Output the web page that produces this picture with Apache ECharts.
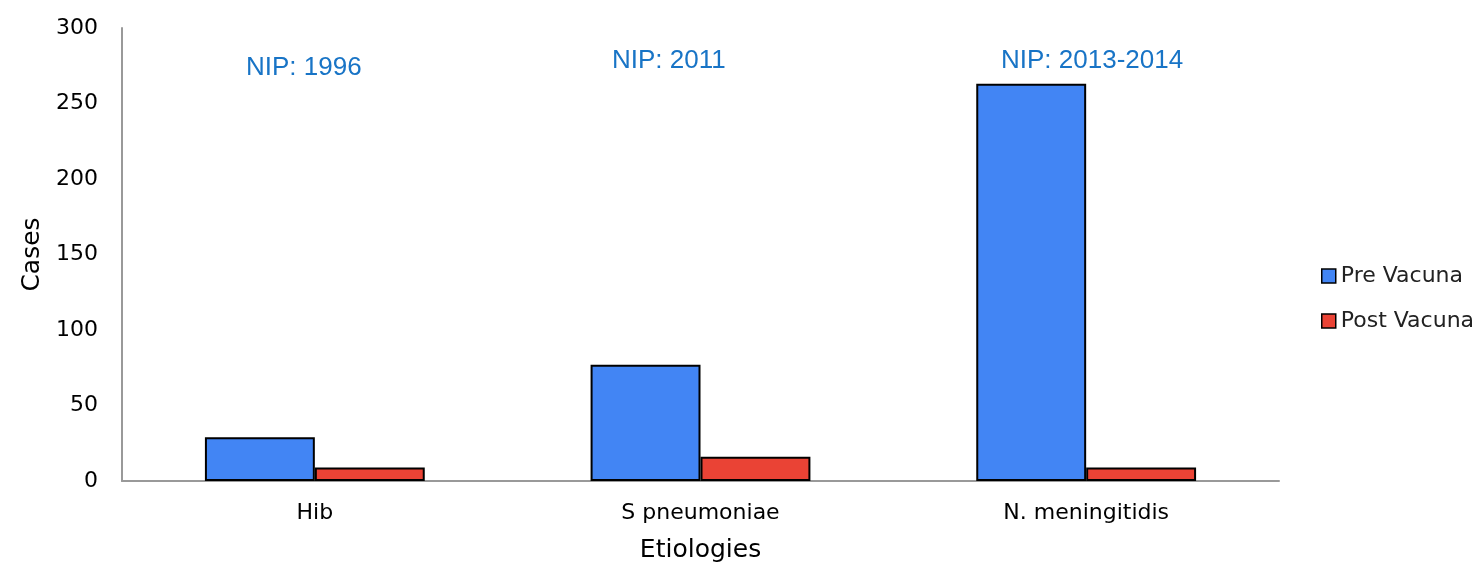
<!DOCTYPE html>
<html>
<head>
<meta charset="utf-8">
<script src="https://cdn.jsdelivr.net/npm/echarts@6/dist/echarts.min.js"></script>
<style>
  html, body { margin: 0; padding: 0; background: #fff; }
  #main { width: 1479px; height: 564px; }
</style>
</head>
<body>
<div id="main"></div>
<script>
// data
var categories = ['Hib', 'S pneumoniae', 'N. meningitidis'];
var preVacuna = [29, 77, 263];
var postVacuna = [9, 16, 9];
var nipLabels = ['NIP: 1996', 'NIP: 2011', 'NIP: 2013-2014'];

var axisFont = 'DejaVu Sans';

var myChart = echarts.init(document.getElementById('main'));

myChart.setOption({
    animation: false,
    backgroundColor: '#fff',
    grid: { left: 122, right: 200, top: 28, bottom: 83, outerBoundsMode: 'none' },
    legend: {
        orient: 'vertical',
        left: 1321,
        top: 265,
        padding: 0,
        itemWidth: 14,
        itemHeight: 14,
        itemGap: 23,
        icon: 'rect',
        itemStyle: { borderColor: '#000', borderWidth: 1.5 },
        textStyle: { fontFamily: axisFont, fontSize: 22, color: '#222' },
        data: ['Pre Vacuna', 'Post Vacuna']
    },
    xAxis: {
        type: 'category',
        data: categories,
        name: 'Etiologies',
        nameLocation: 'middle',
        nameGap: 57,
        nameTextStyle: { fontFamily: axisFont, fontSize: 25, color: '#000' },
        axisLine: { lineStyle: { color: '#999', width: 2 } },
        axisTick: { show: false },
        axisLabel: { fontFamily: axisFont, fontSize: 22, color: '#000', margin: 21 }
    },
    yAxis: {
        type: 'value',
        min: 0,
        max: 300,
        interval: 50,
        name: 'Cases',
        nameLocation: 'middle',
        nameRotate: 90,
        nameGap: 75,
        nameTextStyle: { fontFamily: axisFont, fontSize: 25, color: '#000' },
        axisLine: { show: true, lineStyle: { color: '#999', width: 2 } },
        axisTick: { show: false },
        splitLine: { show: false },
        axisLabel: { fontFamily: axisFont, fontSize: 22, color: '#000', margin: 24 }
    },
    series: [
        {
            name: 'Pre Vacuna',
            type: 'bar',
            data: preVacuna,
            barGap: '0%',
            barCategoryGap: '43%',
            itemStyle: { color: '#4285F4', borderColor: '#000', borderWidth: 2 }
        },
        {
            name: 'Post Vacuna',
            type: 'bar',
            data: postVacuna,
            itemStyle: { color: '#EA4335', borderColor: '#000', borderWidth: 2 }
        }
    ],
    graphic: [
        { type: 'text', left: 246, top: 55, style: { text: nipLabels[0], fontFamily: 'Liberation Sans', fontSize: 26, fill: '#1874C6' } },
        { type: 'text', left: 612, top: 48, style: { text: nipLabels[1], fontFamily: 'Liberation Sans', fontSize: 26, fill: '#1874C6' } },
        { type: 'text', left: 1001, top: 48, style: { text: nipLabels[2], fontFamily: 'Liberation Sans', fontSize: 26, fill: '#1874C6' } }
    ]
});
</script>
</body>
</html>
